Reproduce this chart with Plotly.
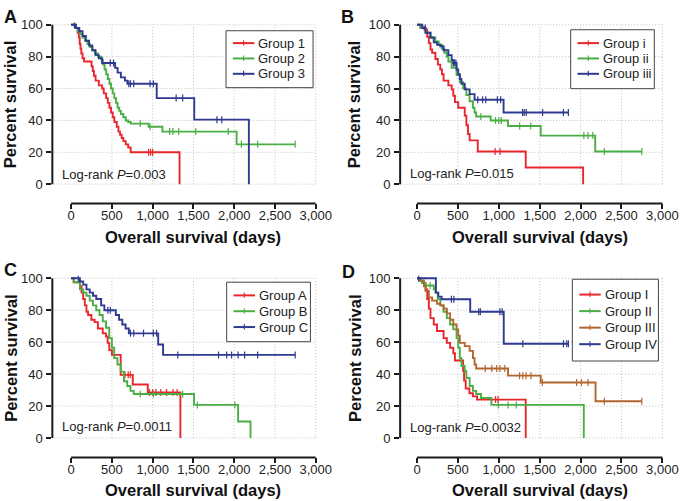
import numpy as np
import plotly.graph_objects as go

W, H = 693, 501

# ---------------- data (days, percent survival) ----------------
# Panel A
A1_t = [0, 50, 80, 95, 105, 115, 125, 140, 160, 250, 265, 280, 300, 340, 380, 400, 430, 450, 470, 490, 510, 530, 560, 580, 600, 620, 640, 670, 700, 730, 1330]
A1_s = [100, 98, 95, 92, 88, 85, 82, 79, 77, 74, 71, 68, 65, 62, 60, 57, 54, 51, 48, 45, 42, 39, 36, 33, 31, 29, 27, 25, 23, 20, 0]
A1_c = [950, 975, 1000]
A2_t = [0, 50, 80, 110, 140, 170, 200, 230, 260, 290, 330, 370, 390, 410, 430, 450, 470, 490, 510, 530, 550, 570, 590, 610, 640, 670, 700, 730, 950, 1120, 2030]
A2_s = [100, 98, 96, 94, 92, 90, 88, 86, 84, 82, 80, 78, 75, 72, 69, 66, 63, 60, 57, 54, 51, 48, 46, 44, 42, 40, 39, 38, 36, 33, 25]
A2_c = [848, 968, 1208, 1248, 1320, 1528, 1928, 2088, 2288, 2748]
A3_t = [0, 60, 100, 140, 180, 220, 260, 300, 340, 380, 540, 570, 610, 660, 690, 1050, 1510, 2180]
A3_s = [100, 98, 96, 93, 90, 87, 84, 81, 79, 76, 73, 70, 67, 65, 63, 54, 40.5, 0]
A3_c = [40, 480, 520, 708, 728, 768, 968, 1008, 1288, 1368, 1788, 1848]

# Panel B
B1_t = [0, 40, 90, 124, 144, 164, 184, 224, 254, 284, 304, 324, 383, 423, 443, 463, 503, 583, 603, 623, 643, 742, 1329, 2031]
B1_s = [100, 98.5, 97, 92.5, 88.5, 84.5, 82.5, 78.5, 75, 72, 69, 65, 62, 59.5, 55.5, 51.5, 48, 43, 37, 31.5, 27.5, 20.5, 10.5, 0]
B1_c = [955, 1015]
B2_t = [0, 40, 104, 164, 224, 264, 303, 333, 363, 383, 423, 483, 523, 563, 603, 643, 683, 703, 723, 900, 1113, 1512, 2179]
B2_s = [100, 98, 95, 92, 89.5, 87.5, 85, 82.5, 80, 77, 73, 68.5, 64, 60, 56, 52, 48, 45, 42.5, 40, 36.5, 30.5, 20.5]
B2_c = [780, 960, 1000, 1030, 1255, 1390, 2040, 2090, 2150, 2290, 2749]
B3_t = [0, 64, 104, 164, 204, 244, 284, 324, 383, 423, 443, 483, 503, 523, 543, 583, 643, 703, 1058]
B3_s = [100, 98, 95, 92, 89, 87.5, 86.5, 84, 81, 78, 76, 72, 69, 66, 63, 59.5, 56.5, 53, 45]
B3_c = [100, 445, 460, 475, 742, 802, 840, 982, 1022, 1290, 1310, 1335, 1535, 1790, 1851]

# Panel C
C1_t = [0, 30, 108, 128, 148, 168, 188, 208, 248, 288, 328, 388, 428, 448, 468, 500, 608, 756, 940, 1340]
C1_s = [100, 97.5, 95, 91, 87, 83, 79, 77, 74, 72.5, 68.5, 65.5, 63.5, 59.5, 55, 52, 39.5, 33.5, 28.5, 0]
C1_c = [660, 700, 725, 960, 1000, 1040, 1100, 1170, 1250, 1300]
C2_t = [0, 35, 108, 148, 188, 228, 268, 308, 348, 388, 428, 468, 500, 528, 568, 608, 648, 688, 728, 768, 1508, 2048, 2200]
C2_s = [100, 97.5, 93, 91, 89, 86, 83, 80, 77, 73, 69, 62.5, 56.5, 50, 46, 41.5, 35.5, 32.5, 29.5, 27.5, 20.7, 10.3, 0]
C2_c = [848, 1010, 1368, 1548, 2008]
C3_t = [0, 108, 148, 188, 228, 268, 308, 368, 408, 548, 588, 628, 668, 708, 1068, 1128]
C3_s = [100, 98, 96, 93, 91, 89, 87, 83, 80, 77, 74, 71, 68.5, 65.5, 58.5, 52]
C3_c = [88, 450, 480, 728, 768, 888, 1008, 1048, 1308, 1808, 1908, 1968, 2048, 2128, 2288, 2748]

# Panel D
D1_t = [0, 40, 80, 104, 124, 144, 164, 204, 244, 324, 364, 404, 443, 463, 563, 575, 595, 640, 683, 734, 1329]
D1_s = [100, 98.5, 97, 93, 87, 81, 75, 71, 67, 62.5, 59.5, 56.5, 53, 48.5, 42, 36, 31, 28, 26, 24, 0]
D1_c = [960, 990]
D2_t = [0, 40, 60, 100, 204, 224, 254, 284, 324, 364, 404, 443, 483, 503, 523, 543, 583, 603, 643, 683, 723, 782, 910, 2039]
D2_s = [100, 98.5, 97, 95.5, 93, 91, 87, 83, 79, 75, 71, 68, 62.5, 56.5, 50, 45, 42, 37.5, 32.5, 29.5, 27.5, 25, 20.7, 0]
D2_c = [160, 994, 1113, 1213]
D3_t = [0, 40, 84, 104, 144, 184, 244, 284, 324, 364, 404, 443, 483, 503, 523, 583, 643, 683, 703, 723, 1113, 1512, 2183]
D3_s = [100, 98.5, 95, 92, 88, 86, 84, 83, 81, 78, 74, 71, 68, 64, 59.5, 57.5, 54.5, 50, 46, 43.5, 39, 34.7, 23]
D3_c = [834, 914, 974, 1013, 1073, 1253, 1293, 1333, 1393, 1532, 1951, 2011, 2091, 2290, 2749]
D4_t = [0, 230, 260, 300, 650, 1060]
D4_s = [100, 91, 88.5, 86.8, 79, 59]
D4_c = [20, 420, 450, 754, 774, 1013, 1040, 1293, 1791, 1831, 1851]

X_TICKS = [0, 500, 1000, 1500, 2000, 2500, 3000]
X_TICK_TEXT = ["0", "500", "1,000", "1,500", "2,000", "2,500", "3,000"]
Y_TICKS = [0, 20, 40, 60, 80, 100]

LABELS = ["A", "B", "C", "D"]
PVALUES = ["0.003", "0.015", "0.0011", "0.0032"]

RED, GREEN, BLUE, BROWN = "#E8262B", "#4BAE45", "#2E3A8F", "#B3652F"

GROUPS = [
    [("Group 1", A1_t, A1_s, A1_c, RED), ("Group 2", A2_t, A2_s, A2_c, GREEN), ("Group 3", A3_t, A3_s, A3_c, BLUE)],
    [("Group i", B1_t, B1_s, B1_c, RED), ("Group ii", B2_t, B2_s, B2_c, GREEN), ("Group iii", B3_t, B3_s, B3_c, BLUE)],
    [("Group A", C1_t, C1_s, C1_c, RED), ("Group B", C2_t, C2_s, C2_c, GREEN), ("Group C", C3_t, C3_s, C3_c, BLUE)],
    [("Group I", D1_t, D1_s, D1_c, RED), ("Group II", D2_t, D2_s, D2_c, GREEN), ("Group III", D3_t, D3_s, D3_c, BROWN), ("Group IV", D4_t, D4_s, D4_c, BLUE)],
]

# ---------------- layout geometry (pixels) ----------------
# leg = (left, top, width, first-row offset, row step)
GEOM = [
    dict(yax=53.5, x0=72.7, x1=322.7, y0=181.0, y1=20.0, xax=200.5, ytit=11, lab=(2, 0),
         leg=(231, 26, 89, 12.5, 15.5), ann=(61.7, 171), xtit=234),
    dict(yax=409.0, x0=426.3, x1=677.0, y0=181.0, y1=20.0, xax=200.5, ytit=362.7, lab=(346, 0),
         leg=(583.3, 25, 85.5, 13.5, 15.5), ann=(416.7, 170.7), xtit=234),
    dict(yax=53.5, x0=72.7, x1=322.7, y0=437.3, y1=276.0, xax=457.0, ytit=11, lab=(2, 256),
         leg=(231.7, 280, 85.6, 13.3, 16), ann=(61.7, 425.5), xtit=490),
    dict(yax=409.0, x0=426.3, x1=677.0, y0=437.3, y1=276.0, xax=457.0, ytit=362.7, lab=(348, 258),
         leg=(585, 277, 88, 15.5, 16.7), ann=(416.7, 426.5), xtit=490),
]

FONT = "Liberation Sans, Arial, Helvetica, sans-serif"
XMAX, YMAX = 3020, 101.5
GRID = dict(color="#c2c2c2", width=1, dash="1px,2px")
AXIS = dict(color="#1a1a1a", width=2)


def px(v):
    return v / W


def py(v):
    return 1 - v / H


fig = go.Figure()
layout = dict(width=W, height=H, margin=dict(l=0, r=0, t=0, b=0),
              paper_bgcolor="white", plot_bgcolor="rgba(0,0,0,0)",
              font=dict(family=FONT, color="#222"), showlegend=False)
shapes, annotations = [], []

for i, (g, groups) in enumerate(zip(GEOM, GROUPS)):
    n = "" if i == 0 else str(i + 1)
    xa, ya = "x" + n, "y" + n
    kx = (g["x1"] - g["x0"]) / 3000.0
    ky = (g["y0"] - g["y1"]) / 100.0
    xmin = (g["yax"] - g["x0"]) / kx
    ymin = -(g["xax"] - g["y0"]) / ky
    dom_x = [(g["x0"] + xmin * kx) / W, (g["x0"] + XMAX * kx) / W]
    dom_y = [1 - (g["y0"] - ymin * ky) / H, 1 - (g["y0"] - YMAX * ky) / H]
    axcommon = dict(showgrid=False, zeroline=False, showline=False, ticks="outside",
                    ticklen=5, tickwidth=1.8, tickcolor="#1a1a1a",
                    tickfont=dict(size=13, family=FONT, color="#222"))
    layout["xaxis" + n] = dict(domain=dom_x, range=[xmin, XMAX], anchor=ya, fixedrange=True,
                               tickvals=X_TICKS, ticktext=X_TICK_TEXT, ticklabelstandoff=-5,
                               **axcommon)
    layout["yaxis" + n] = dict(domain=dom_y, range=[ymin, YMAX], anchor=xa, fixedrange=True,
                               tickvals=Y_TICKS, ticklabelstandoff=1, **axcommon)
    # dotted grid
    for yv in Y_TICKS:
        shapes.append(dict(type="line", xref=xa, yref=ya, x0=xmin, x1=3000, y0=yv, y1=yv,
                           line=GRID, layer="between"))
    for xv in X_TICKS[1:]:
        shapes.append(dict(type="line", xref=xa, yref=ya, x0=xv, x1=xv, y0=0, y1=100,
                           line=GRID, layer="between"))
    # offset axis lines
    shapes.append(dict(type="line", xref=xa, yref=ya + " domain", x0=0, x1=3000, y0=0, y1=0,
                       line=AXIS, layer="above"))
    shapes.append(dict(type="line", xref=xa + " domain", yref=ya, x0=0, x1=0, y0=0, y1=100,
                       line=AXIS, layer="above"))

    # curves + censor ticks
    for name, t, s, c, col in groups:
        t = list(t); s = list(s)
        end = max(c) if len(c) and max(c) > t[-1] else t[-1]
        xs = t + ([end] if end > t[-1] else [])
        ys = s + ([s[-1]] if end > t[-1] else [])
        fig.add_trace(go.Scatter(x=xs, y=ys, mode="lines", name=name,
                                 line=dict(color=col, width=1.9, shape="hv"),
                                 xaxis=xa, yaxis=ya, hoverinfo="skip"))
        idx = np.searchsorted(np.array(t), np.array(c), side="right") - 1
        cy = [s[j] for j in idx]
        fig.add_trace(go.Scatter(x=c, y=cy, mode="markers", name=name + " (censored)",
                                 marker=dict(symbol="line-ns", size=5, line=dict(color=col, width=1.2)),
                                 xaxis=xa, yaxis=ya, hoverinfo="skip"))

    # legend box (drawn)
    lx, ly, lw, off, step = g["leg"]
    lh = off + step * (len(groups) - 1) + off + 1.5
    shapes.append(dict(type="rect", xref="paper", yref="paper", x0=px(lx), x1=px(lx + lw),
                       y0=py(ly + lh), y1=py(ly), fillcolor="white",
                       line=dict(color="#444", width=1), layer="above"))
    for k, (name, t, s, c, col) in enumerate(groups):
        ry = ly + off + k * step
        shapes.append(dict(type="line", xref="paper", yref="paper", x0=px(lx + 7), x1=px(lx + 29),
                           y0=py(ry), y1=py(ry), line=dict(color=col, width=2), layer="above"))
        shapes.append(dict(type="line", xref="paper", yref="paper", x0=px(lx + 18), x1=px(lx + 18),
                           y0=py(ry + 2.5), y1=py(ry - 3), line=dict(color=col, width=1.1), layer="above"))
        annotations.append(dict(text=name, xref="paper", yref="paper", x=px(lx + 31), y=py(ry),
                                xanchor="left", yanchor="middle", showarrow=False,
                                font=dict(size=13, family=FONT, color="#222")))

    # texts
    annotations.append(dict(text="<b>%s</b>" % LABELS[i], xref="paper", yref="paper",
                            x=px(g["lab"][0]), y=py(g["lab"][1]), xanchor="left", yanchor="top",
                            showarrow=False, font=dict(size=18, family=FONT, color="#111")))
    annotations.append(dict(text="Log-rank <i>P</i>=%s" % PVALUES[i], xref=xa, yref=ya,
                            x=(g["ann"][0] - g["x0"]) / kx, y=(g["y0"] - g["ann"][1]) / ky,
                            xanchor="left", yanchor="middle", showarrow=False,
                            font=dict(size=13, family=FONT, color="#222")))
    annotations.append(dict(text="<b>Overall survival (days)</b>", xref=xa, yref="paper",
                            x=1500, y=py(g["xtit"]), xanchor="center", yanchor="middle",
                            showarrow=False, font=dict(size=16.5, family=FONT, color="#111")))
    annotations.append(dict(text="<b>Percent survival</b>", xref="paper", yref=ya,
                            x=px(g["ytit"]), y=50, xanchor="center", yanchor="middle", textangle=-90,
                            showarrow=False, font=dict(size=16.5, family=FONT, color="#111")))

layout["shapes"] = shapes
layout["annotations"] = annotations
fig.update_layout(**layout)
fig.write_html("out.html", config={"displayModeBar": False},
               post_script="document.body.style.margin='0px';")
